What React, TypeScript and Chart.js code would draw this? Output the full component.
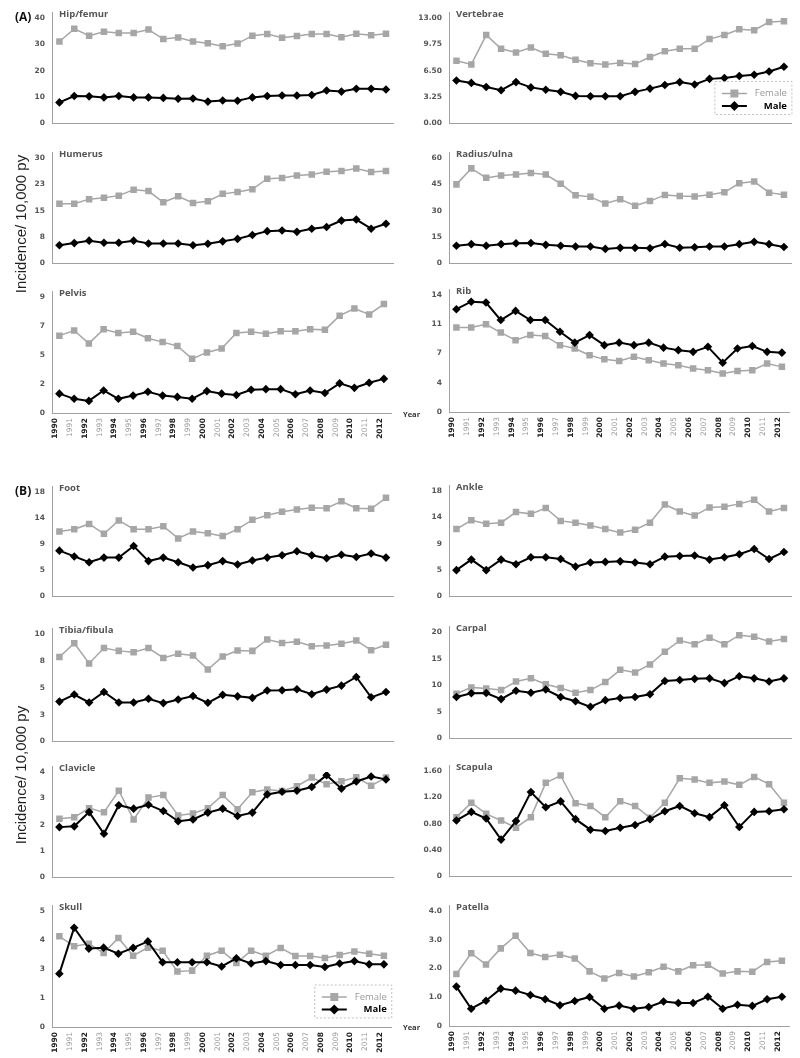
import React, { useEffect, useRef } from "react";
import Chart from "chart.js/auto";

const years = [
  "1990", "1991", "1992", "1993", "1994", "1995", "1996", "1997", "1998", "1999", "2000", "2001",
  "2002", "2003", "2004", "2005", "2006", "2007", "2008", "2009", "2010", "2011", "2012",
];

// (A)
const hipFemale = [31.1, 35.9, 33.3, 34.8, 34.3, 34.3, 35.6, 32.0, 32.6, 31.1, 30.4, 29.3, 30.3, 33.3, 33.9, 32.5, 33.2, 33.9, 33.9, 32.7, 34.0, 33.5, 34.0];
const hipMale = [8.0, 10.4, 10.3, 9.9, 10.4, 9.9, 9.9, 9.7, 9.4, 9.5, 8.3, 8.7, 8.6, 9.9, 10.4, 10.6, 10.6, 10.8, 12.5, 12.1, 13.2, 13.2, 12.9];
const hipTicks = ["0", "10", "20", "30", "40"];

const vertFemale = [7.74, 7.28, 10.9, 9.2, 8.75, 9.36, 8.6, 8.4, 7.85, 7.43, 7.28, 7.47, 7.32, 8.2, 8.9, 9.2, 9.2, 10.4, 10.9, 11.6, 11.5, 12.5, 12.6];
const vertMale = [5.3, 5.0, 4.5, 4.1, 5.1, 4.45, 4.15, 3.9, 3.4, 3.36, 3.36, 3.36, 3.9, 4.3, 4.75, 5.1, 4.8, 5.5, 5.6, 5.85, 6.0, 6.4, 7.0];
const vertTicks = ["0.00", "3.25", "6.50", "9.75", "13.00"];

const humFemale = [17.0, 17.0, 18.3, 18.7, 19.3, 21.0, 20.6, 17.4, 19.1, 17.2, 17.7, 19.8, 20.3, 21.1, 24.1, 24.3, 25.0, 25.3, 26.1, 26.3, 27.0, 26.0, 26.3];
const humMale = [5.2, 5.8, 6.5, 5.9, 5.9, 6.5, 5.7, 5.7, 5.7, 5.2, 5.6, 6.3, 7.0, 8.1, 9.2, 9.4, 9.0, 9.9, 10.4, 12.2, 12.5, 9.9, 11.3];
const humTicks = ["0", "8", "15", "23", "30"];

const radFemale = [45.0, 54.1, 48.7, 50.1, 50.6, 51.5, 50.6, 45.4, 38.8, 37.9, 34.1, 36.5, 32.9, 35.5, 39.0, 38.4, 38.1, 39.1, 40.5, 45.6, 46.6, 40.3, 39.1];
const radMale = [10.1, 11.0, 10.1, 11.0, 11.5, 11.7, 10.6, 10.1, 9.7, 9.7, 8.3, 8.9, 8.9, 8.7, 11.1, 9.0, 9.2, 9.7, 9.7, 11.0, 12.3, 11.0, 9.4];
const radTicks = ["0", "15", "30", "45", "60"];

const pelvFemale = [6.0, 6.4, 5.4, 6.5, 6.2, 6.3, 5.8, 5.5, 5.2, 4.2, 4.7, 5.0, 6.2, 6.3, 6.15, 6.35, 6.35, 6.5, 6.45, 7.55, 8.1, 7.65, 8.45];
const pelvMale = [1.5, 1.1, 0.94, 1.75, 1.1, 1.35, 1.65, 1.35, 1.25, 1.1, 1.7, 1.5, 1.4, 1.8, 1.85, 1.85, 1.45, 1.75, 1.55, 2.3, 1.95, 2.35, 2.65];
const pelvTicks = ["0", "2", "5", "7", "9"];

const ribFemale = [10.1, 10.1, 10.5, 9.5, 8.6, 9.2, 9.1, 8.0, 7.6, 6.8, 6.3, 6.1, 6.6, 6.2, 5.8, 5.6, 5.2, 5.0, 4.6, 4.9, 5.0, 5.8, 5.4];
const ribMale = [12.3, 13.2, 13.1, 11.0, 12.1, 11.0, 11.0, 9.6, 8.3, 9.2, 8.0, 8.3, 8.0, 8.3, 7.7, 7.4, 7.2, 7.8, 5.9, 7.6, 7.9, 7.2, 7.1];
const ribTicks = ["0", "4", "7", "11", "14"];

// (B)
const footFemale = [11.2, 11.6, 12.5, 10.8, 13.1, 11.6, 11.6, 12.1, 10.0, 11.2, 10.9, 10.4, 11.6, 13.2, 14.0, 14.6, 15.0, 15.3, 15.2, 16.4, 15.2, 15.1, 17.0];
const footMale = [7.9, 6.9, 5.9, 6.7, 6.7, 8.7, 6.1, 6.7, 5.9, 5.0, 5.4, 6.1, 5.5, 6.2, 6.7, 7.1, 7.8, 7.1, 6.6, 7.2, 6.8, 7.4, 6.7];
const footTicks = ["0", "5", "9", "14", "18"];

const ankFemale = [11.5, 13.0, 12.4, 12.6, 14.4, 14.1, 15.1, 12.9, 12.6, 12.1, 11.5, 10.9, 11.4, 12.6, 15.7, 14.5, 13.8, 15.2, 15.3, 15.8, 16.5, 14.5, 15.1];
const ankMale = [4.5, 6.3, 4.5, 6.3, 5.5, 6.7, 6.7, 6.4, 5.1, 5.8, 5.9, 6.0, 5.8, 5.5, 6.8, 6.9, 7.0, 6.3, 6.7, 7.2, 8.1, 6.4, 7.6];
const ankTicks = ["0", "5", "9", "14", "18"];

const tibFemale = [7.86, 9.14, 7.26, 8.69, 8.43, 8.31, 8.69, 7.77, 8.17, 8.0, 6.69, 7.91, 8.46, 8.43, 9.49, 9.17, 9.29, 8.86, 8.94, 9.09, 9.4, 8.49, 9.0];
const tibMale = [3.71, 4.37, 3.63, 4.6, 3.63, 3.63, 3.97, 3.57, 3.91, 4.23, 3.6, 4.34, 4.2, 4.06, 4.74, 4.77, 4.86, 4.4, 4.83, 5.2, 6.0, 4.11, 4.6];
const tibTicks = ["0", "3", "5", "8", "10"];

const carFemale = [8.4, 9.6, 9.4, 9.1, 10.7, 11.3, 10.2, 9.5, 8.6, 9.1, 10.6, 12.9, 12.4, 13.9, 16.3, 18.4, 17.7, 18.9, 17.7, 19.4, 19.1, 18.2, 18.7];
const carMale = [7.8, 8.5, 8.55, 7.4, 8.96, 8.6, 9.2, 7.8, 7.0, 5.95, 7.2, 7.6, 7.8, 8.3, 10.8, 11.0, 11.2, 11.3, 10.4, 11.7, 11.3, 10.7, 11.3];
const carTicks = ["0", "5", "10", "15", "20"];

const clavFemale = [2.23, 2.28, 2.63, 2.47, 3.29, 2.2, 3.03, 3.13, 2.35, 2.43, 2.63, 3.13, 2.59, 3.23, 3.34, 3.28, 3.46, 3.79, 3.54, 3.65, 3.8, 3.48, 3.79];
const clavMale = [1.91, 1.94, 2.48, 1.66, 2.74, 2.61, 2.76, 2.52, 2.13, 2.2, 2.46, 2.61, 2.33, 2.46, 3.15, 3.25, 3.29, 3.43, 3.88, 3.37, 3.64, 3.83, 3.72];
const clavTicks = ["0", "1", "2", "3", "4"];

const scapFemale = [0.9, 1.12, 0.95, 0.85, 0.74, 0.9, 1.42, 1.53, 1.11, 1.07, 0.9, 1.14, 1.07, 0.89, 1.12, 1.49, 1.47, 1.42, 1.44, 1.39, 1.51, 1.4, 1.12];
const scapMale = [0.85, 0.98, 0.88, 0.56, 0.84, 1.28, 1.05, 1.14, 0.87, 0.71, 0.69, 0.74, 0.78, 0.87, 0.99, 1.07, 0.96, 0.9, 1.08, 0.75, 0.98, 0.99, 1.02];
const scapTicks = ["0", "0.40", "0.80", "1.20", "1.60"];

const skullFemale = [3.91, 3.48, 3.59, 3.19, 3.84, 3.07, 3.42, 3.29, 2.39, 2.43, 3.07, 3.29, 2.76, 3.29, 3.07, 3.41, 3.06, 3.06, 2.97, 3.1, 3.25, 3.16, 3.07];
const skullMale = [2.3, 4.28, 3.38, 3.42, 3.16, 3.41, 3.69, 2.79, 2.79, 2.79, 2.79, 2.61, 2.96, 2.74, 2.84, 2.67, 2.67, 2.67, 2.59, 2.74, 2.84, 2.7, 2.7];
const skullTicks = ["0", "1", "3", "4", "5"];

const patFemale = [1.81, 2.53, 2.14, 2.7, 3.14, 2.54, 2.4, 2.48, 2.35, 1.9, 1.65, 1.84, 1.72, 1.87, 2.06, 1.9, 2.11, 2.13, 1.83, 1.9, 1.89, 2.23, 2.27];
const patMale = [1.37, 0.6, 0.88, 1.3, 1.23, 1.08, 0.93, 0.72, 0.87, 1.01, 0.6, 0.71, 0.6, 0.66, 0.85, 0.8, 0.8, 1.02, 0.6, 0.74, 0.7, 0.93, 1.02];
const patTicks = ["0", "1.0", "2.0", "3.0", "4.0"];

const FEMALE = "#a6a6a6";
const MALE = "#000000";
const AXIS = "#a0a0a0";
const TICK_FONT = "DejaVu Sans";
const TEXT_FONT = "Open Sans";

// column placement of the canvases (chart area starts 40px in)
const COLS = [
  { left: 12, width: 386 },
  { left: 409, width: 387 },
];

type PanelDef = {
  title: string;
  female: number[];
  male: number[];
  ticks: string[];
  col: number;
  top: number;
  bottom: number;
  years?: boolean;
  legend?: boolean;
};

const panels: PanelDef[] = [
  { title: "Hip/femur", female: hipFemale, male: hipMale, ticks: hipTicks, col: 0, top: 18, bottom: 133 },
  { title: "Vertebrae", female: vertFemale, male: vertMale, ticks: vertTicks, col: 1, top: 18, bottom: 133, legend: true },
  { title: "Humerus", female: humFemale, male: humMale, ticks: humTicks, col: 0, top: 158, bottom: 273 },
  { title: "Radius/ulna", female: radFemale, male: radMale, ticks: radTicks, col: 1, top: 158, bottom: 273 },
  { title: "Pelvis", female: pelvFemale, male: pelvMale, ticks: pelvTicks, col: 0, top: 297, bottom: 413, years: true },
  { title: "Rib", female: ribFemale, male: ribMale, ticks: ribTicks, col: 1, top: 295, bottom: 412, years: true },
  { title: "Foot", female: footFemale, male: footMale, ticks: footTicks, col: 0, top: 492, bottom: 606 },
  { title: "Ankle", female: ankFemale, male: ankMale, ticks: ankTicks, col: 1, top: 491, bottom: 606 },
  { title: "Tibia/fibula", female: tibFemale, male: tibMale, ticks: tibTicks, col: 0, top: 634, bottom: 751 },
  { title: "Carpal", female: carFemale, male: carMale, ticks: carTicks, col: 1, top: 632, bottom: 748 },
  { title: "Clavicle", female: clavFemale, male: clavMale, ticks: clavTicks, col: 0, top: 772, bottom: 887 },
  { title: "Scapula", female: scapFemale, male: scapMale, ticks: scapTicks, col: 1, top: 771, bottom: 886 },
  { title: "Skull", female: skullFemale, male: skullMale, ticks: skullTicks, col: 0, top: 911, bottom: 1027, years: true, legend: true },
  { title: "Patella", female: patFemale, male: patMale, ticks: patTicks, col: 1, top: 911, bottom: 1026, years: true },
];

function makeDecor(title: string, legend: boolean) {
  return {
    id: "decor",
    afterDraw(chart: any) {
      const { ctx, chartArea: a } = chart;
      ctx.save();
      // y axis line runs a little above the top tick
      const ax = Math.round(a.left - 0.5) + 0.5;
      ctx.strokeStyle = AXIS;
      ctx.lineWidth = 1;
      ctx.beginPath();
      ctx.moveTo(ax, a.top - 6);
      ctx.lineTo(ax, a.top);
      ctx.stroke();

      ctx.font = `bold 9.5px "${TEXT_FONT}"`;
      ctx.fillStyle = "#555555";
      ctx.textAlign = "left";
      ctx.textBaseline = "alphabetic";
      ctx.fillText(title, a.left + 7, a.top - 1);

      if (legend) {
        const w = 77;
        const h = 33;
        const rx = a.right + 0.5 - w;
        const ry = a.bottom - 9 - h;
        ctx.setLineDash([2, 2]);
        ctx.strokeStyle = "#b0b0b0";
        ctx.lineWidth = 0.8;
        ctx.strokeRect(rx, ry, w, h);
        ctx.setLineDash([]);

        const ds = chart.data.datasets;
        const rows = [
          { d: ds[0], y: ry + 12, bold: false },
          { d: ds[1], y: ry + 24.5, bold: true },
        ];
        rows.forEach((row) => {
          const col = row.d.borderColor;
          ctx.strokeStyle = col;
          ctx.lineWidth = row.d.borderWidth;
          ctx.beginPath();
          ctx.moveTo(rx + 7, row.y);
          ctx.lineTo(rx + 32, row.y);
          ctx.stroke();
          ctx.fillStyle = col;
          const cx = rx + 19.5;
          ctx.beginPath();
          if (row.d.pointStyle === "rect") {
            ctx.rect(cx - 4, row.y - 4, 8, 8);
          } else {
            ctx.moveTo(cx, row.y - 5);
            ctx.lineTo(cx + 5, row.y);
            ctx.lineTo(cx, row.y + 5);
            ctx.lineTo(cx - 5, row.y);
            ctx.closePath();
          }
          ctx.fill();
          ctx.font = `${row.bold ? "bold " : ""}9.5px "${TEXT_FONT}"`;
          ctx.fillStyle = row.bold ? "#000000" : "#9a9a9a";
          ctx.textAlign = "right";
          ctx.textBaseline = "middle";
          ctx.fillText(row.d.label, rx + w - 5, row.y);
        });
      }
      ctx.restore();
    },
  };
}

function Panel({ p }: { p: PanelDef }) {
  const chartRef = useRef<HTMLCanvasElement | null>(null);

  useEffect(() => {
    if (!chartRef.current) return;
    const max = Number(p.ticks[p.ticks.length - 1]);
    const n = p.ticks.length - 1;

    const chart = new Chart(chartRef.current, {
      type: "line",
      data: {
        labels: years,
        datasets: [
          {
            label: "Female",
            data: p.female,
            borderColor: FEMALE,
            backgroundColor: FEMALE,
            borderWidth: 1.5,
            pointStyle: "rect",
            pointRadius: 4.6,
            pointBorderWidth: 0,
            tension: 0,
            order: 1,
          },
          {
            label: "Male",
            data: p.male,
            borderColor: MALE,
            backgroundColor: MALE,
            borderWidth: 2,
            pointStyle: "rectRot",
            pointRadius: 4.3,
            pointBorderWidth: 0,
            tension: 0,
            order: 0,
          },
        ],
      },
      options: {
        responsive: true,
        maintainAspectRatio: false,
        animation: false,
        events: [],
        layout: { padding: { top: 14, right: 3, bottom: p.years ? 0 : 2, left: 0 } },
        plugins: { legend: { display: false }, tooltip: { enabled: false } },
        scales: {
          x: {
            type: "category",
            offset: true,
            grid: { display: false, drawTicks: false },
            border: { color: AXIS, width: 1 },
            ticks: {
              display: !!p.years,
              autoSkip: false,
              minRotation: 90,
              maxRotation: 90,
              padding: 5,
              labelOffset: -4,
              font: (c: any) => ({ family: TICK_FONT, size: 7.5, weight: c.index % 2 ? "normal" : "bold" }),
              color: (c: any) => (c.index % 2 ? "#9a9a9a" : "#222222"),
            },
            afterFit: (s: any) => {
              s.height = p.years ? 30 : 0;
            },
          },
          y: {
            min: 0,
            max,
            grid: { display: false, drawTicks: false },
            border: { color: AXIS, width: 1 },
            afterBuildTicks: (s: any) => {
              s.ticks = p.ticks.map((_, i) => ({ value: (max * i) / n }));
            },
            ticks: {
              padding: 7,
              autoSkip: false,
              font: { family: TICK_FONT, size: 7.5, weight: "bold" },
              color: "#555555",
              callback: (_v: any, i: number) => p.ticks[i],
            },
            afterFit: (s: any) => {
              s.width = 40;
            },
          },
        },
      },
      plugins: [makeDecor(p.title, !!p.legend)],
    } as any);

    return () => {
      chart.destroy();
    };
  }, []);

  const col = COLS[p.col];
  const top = p.top - 14;
  const height = p.bottom - p.top + 14 + (p.years ? 30 : 2);
  return (
    <div style={{ position: "absolute", left: col.left, top, width: col.width, height }}>
      <canvas ref={chartRef} />
    </div>
  );
}

const sideLabel: React.CSSProperties = {
  position: "absolute",
  left: 20,
  transform: "translate(-50%, -50%) rotate(-90deg)",
  whiteSpace: "nowrap",
  fontFamily: "Liberation Sans",
  fontSize: 15,
  color: "#231f20",
};

const partLabel: React.CSSProperties = {
  position: "absolute",
  left: 15,
  fontFamily: TEXT_FONT,
  fontWeight: "bold",
  fontSize: 12,
  lineHeight: "12px",
  color: "#111111",
};

const yearLabel: React.CSSProperties = {
  position: "absolute",
  left: 403,
  fontFamily: TEXT_FONT,
  fontWeight: "bold",
  fontSize: 7.5,
  lineHeight: "8px",
  color: "#333333",
};

export default function App() {
  return (
    <div style={{ position: "absolute", left: 0, top: 0, width: 800, height: 1058, background: "#ffffff" }}>
      {panels.map((p) => (
        <Panel key={p.title} p={p} />
      ))}
      <div style={{ ...sideLabel, top: 224 }}>Incidence/ 10,000 py</div>
      <div style={{ ...sideLabel, top: 775 }}>Incidence/ 10,000 py</div>
      <div style={{ ...partLabel, top: 11 }}>(A)</div>
      <div style={{ ...partLabel, top: 485 }}>(B)</div>
      <div style={{ ...yearLabel, top: 410 }}>Year</div>
      <div style={{ ...yearLabel, top: 1023 }}>Year</div>
    </div>
  );
}
